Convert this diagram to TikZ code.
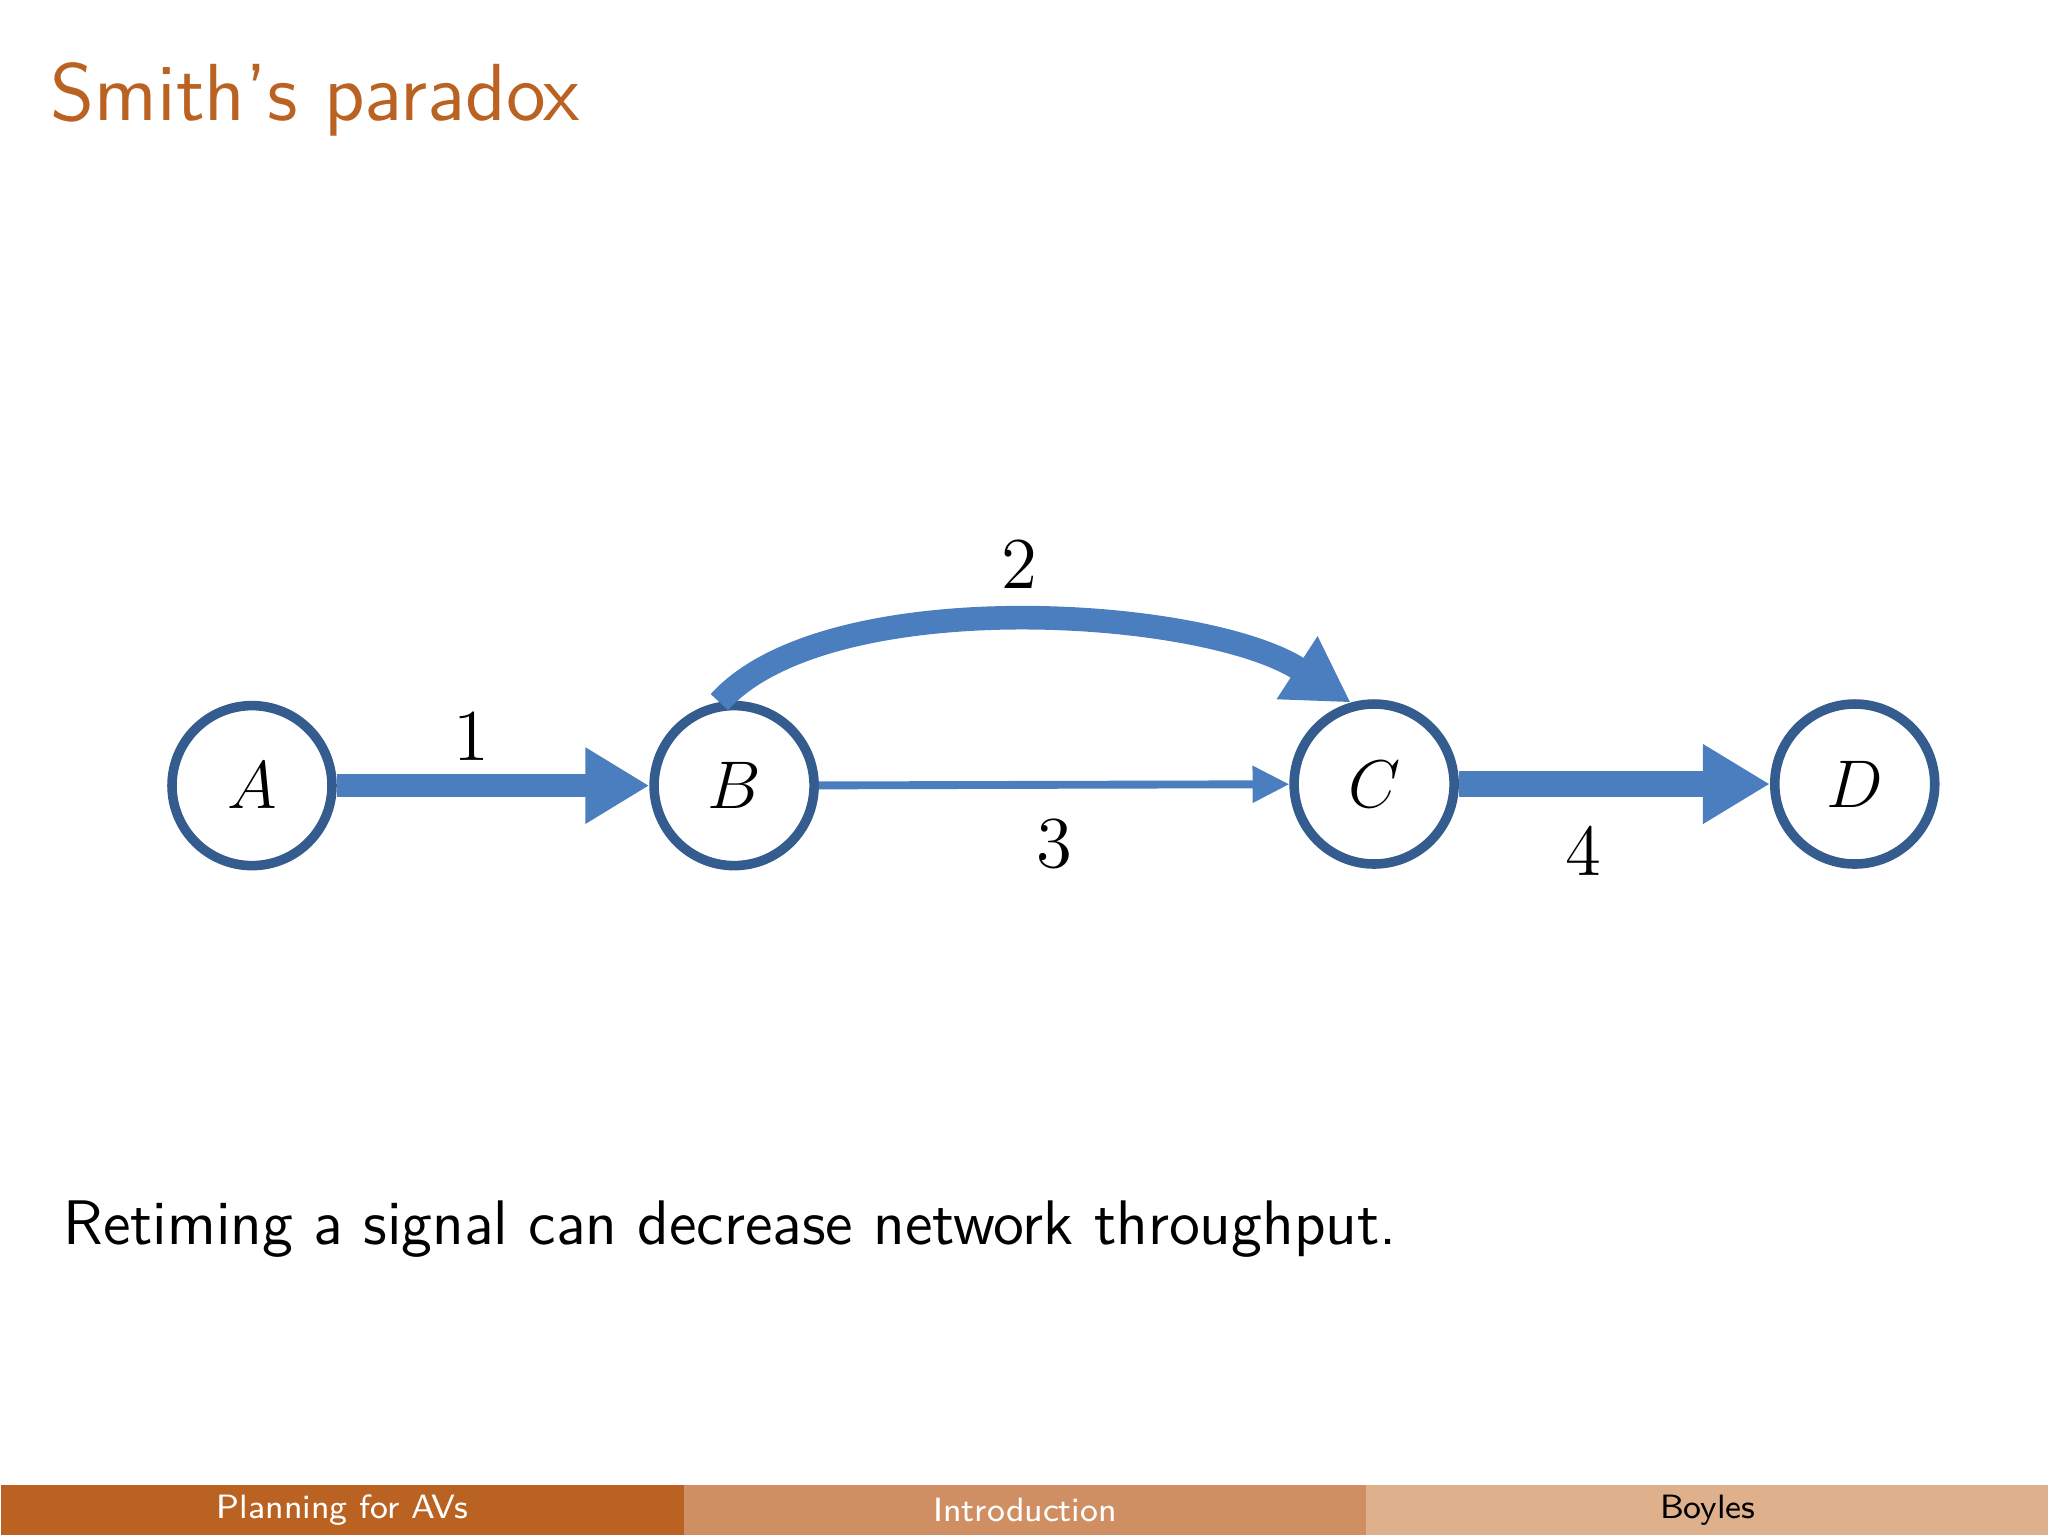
\documentclass[tikz,border=0pt]{standalone}
\usepackage{amsmath}
\usepackage{amssymb}
\usepackage{tikz}
\usepackage{color}
\usetikzlibrary{arrows.meta}

\definecolor{burnt}{RGB}{186,98,34}
\definecolor{burntmid}{RGB}{207,143,98}
\definecolor{burntlight}{RGB}{222,176,139}
\definecolor{linkblue}{RGB}{74,126,190}
\definecolor{ringblue}{RGB}{52,92,142}

\begin{document}
\begin{tikzpicture}[
  vertex/.style={circle, draw=ringblue, line width=1.7pt, minimum size=1.0cm, inner sep=0pt, font=\fontsize{13}{15}\selectfont},
  link/.style={draw=linkblue, line width=#1},
  weight/.style={font=\fontsize{13}{15}\selectfont, inner sep=0pt},
  footbox/.style={anchor=south west, minimum width=4.2667cm, minimum height=0.31cm, inner sep=0pt, font=\sffamily\fontsize{6}{7}\selectfont}
]

\useasboundingbox (0,0) rectangle (12.8,9.6);

\node[anchor=base west, inner sep=0pt, text=burnt, font=\sffamily\fontsize{14.4}{17}\selectfont] (title) at (0.31,8.85) {Smith's paradox};

\node[vertex] (A) at (1.575,4.69) {$A$};
\node[vertex] (B) at (4.588,4.69) {$B$};
\node[vertex] (C) at (8.588,4.70) {$C$};
\node[vertex] (D) at (11.592,4.70) {$D$};

\draw[link=4.2pt, -{Triangle[width=0.45cm, length=0.40cm]}] (A) -- node[weight, pos=0.43, yshift=0.31cm] (w1) {1} (B);

\draw[link=4.2pt, -{Triangle[width=0.44cm, length=0.40cm]}] (B.100) .. controls +(48:1.0) and +(147:1.1) .. node[weight, pos=0.5, yshift=0.36cm] (w2) {2} (C.106);

\draw[link=1.4pt, -{Triangle[width=0.22cm, length=0.23cm]}] (B) -- node[weight, midway, yshift=-0.37cm] (w3) {3} (C);

\draw[link=4.6pt, -{Triangle[width=0.47cm, length=0.42cm]}] (C) -- node[weight, pos=0.4, yshift=-0.42cm] (w4) {4} (D);

\node[anchor=base west, inner sep=0pt, font=\sffamily\fontsize{11.2}{13.5}\selectfont] (note) at (0.39,1.82) {Retiming a signal can decrease network throughput.};

\node[footbox, fill=burnt, text=white] (foot1) at (0,0) {Planning for AVs};
\node[footbox, fill=burntmid, text=white] (foot2) at (4.2667,0) {Introduction};
\node[footbox, fill=burntlight, text=black] (foot3) at (8.5333,0) {Boyles};

\end{tikzpicture}
\end{document}
